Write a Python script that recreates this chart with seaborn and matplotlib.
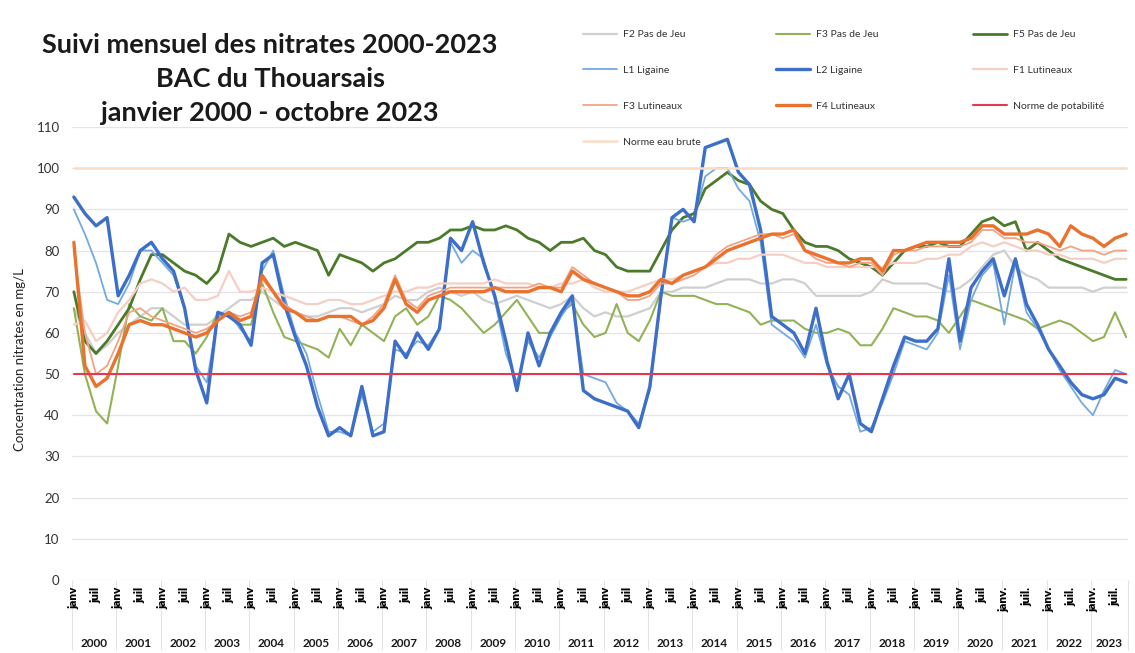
import numpy as np
import pandas as pd
import matplotlib.pyplot as plt
import seaborn as sns
from matplotlib.lines import Line2D

# mois depuis janvier 2000 (valeurs lues tous les 3 mois, jusqu'a octobre 2023)
months = list(range(0, 286, 3))

# one line per year: janv, avr, juil, oct
f2_pas_de_jeu = [
    66, 60, 55, 57,  60, 62, 64, 66,  66, 64, 62, 62,  62, 64, 66, 68,
    68, 70, 68, 66,  65, 64, 64, 65,  66, 66, 65, 66,  67, 69, 68, 68,
    70, 71, 70, 69,  70, 68, 67, 68,  69, 68, 67, 66,  67, 69, 66, 64,
    65, 64, 64, 65,  66, 70, 70, 71,  71, 71, 72, 73,  73, 73, 72, 72,
    73, 73, 72, 69,  69, 69, 69, 69,  70, 73, 72, 72,  72, 72, 71, 70,
    71, 73, 76, 79,  80, 76, 74, 73,  71, 71, 71, 71,  70, 71, 71, 71,
]
f3_pas_de_jeu = [
    66, 50, 41, 38,  52, 67, 64, 63,  66, 58, 58, 55,  59, 65, 64, 62,
    62, 72, 65, 59,  58, 57, 56, 54,  61, 57, 62, 60,  58, 64, 66, 62,
    64, 69, 68, 66,  63, 60, 62, 65,  68, 64, 60, 60,  65, 67, 62, 59,
    60, 67, 60, 58,  63, 70, 69, 69,  69, 68, 67, 67,  66, 65, 62, 63,
    63, 63, 61, 60,  60, 61, 60, 57,  57, 61, 66, 65,  64, 64, 63, 60,
    64, 68, 67, 66,  65, 64, 63, 61,  62, 63, 62, 60,  58, 59, 65, 59,
]
f5_pas_de_jeu = [
    70, 58, 55, 58,  62, 66, 73, 79,  79, 77, 75, 74,  72, 75, 84, 82,
    81, 82, 83, 81,  82, 81, 80, 74,  79, 78, 77, 75,  77, 78, 80, 82,
    82, 83, 85, 85,  86, 85, 85, 86,  85, 83, 82, 80,  82, 82, 83, 80,
    79, 76, 75, 75,  75, 80, 85, 88,  89, 95, 97, 99,  97, 96, 92, 90,
    89, 85, 82, 81,  81, 80, 78, 77,  76, 74, 77, 80,  81, 81, 82, 81,
    81, 84, 87, 88,  86, 87, 80, 82,  80, 78, 77, 76,  75, 74, 73, 73,
]
l1_ligaine = [
    90, 84, 77, 68,  67, 72, 80, 80,  77, 74, 66, 52,  48, 64, 65, 61,
    58, 75, 80, 69,  60, 55, 45, 36,  36, 35, 45, 36,  38, 56, 55, 58,
    57, 61, 82, 77,  80, 78, 68, 55,  48, 58, 54, 59,  64, 68, 50, 49,
    48, 43, 41, 38,  46, 68, 88, 87,  88, 98, 100, 100, 95, 92, 82, 62,
    60, 58, 54, 62,  52, 47, 45, 36,  37, 43, 50, 58,  57, 56, 60, 74,
    56, 68, 74, 77,  62, 77, 65, 61,  56, 51, 47, 43,  40, 46, 51, 50,
]
l2_ligaine = [
    93, 89, 86, 88,  69, 74, 80, 82,  78, 75, 66, 51,  43, 65, 64, 62,
    57, 77, 79, 67,  59, 52, 42, 35,  37, 35, 47, 35,  36, 58, 54, 60,
    56, 61, 83, 80,  87, 77, 69, 58,  46, 60, 52, 60,  65, 69, 46, 44,
    43, 42, 41, 37,  47, 69, 88, 90,  87, 105, 106, 107, 99, 96, 85, 64,
    62, 60, 55, 66,  53, 44, 50, 38,  36, 44, 52, 59,  58, 58, 61, 78,
    58, 71, 75, 78,  69, 78, 67, 62,  56, 52, 48, 45,  44, 45, 49, 48,
]
f1_lutineau = [
    62, 63, 58, 60,  65, 68, 72, 73,  72, 70, 71, 68,  68, 69, 75, 70,
    70, 71, 70, 69,  68, 67, 67, 68,  68, 67, 67, 68,  69, 70, 70, 71,
    71, 72, 72, 72,  72, 72, 73, 72,  72, 72, 71, 71,  72, 72, 73, 71,
    70, 70, 70, 71,  72, 73, 73, 74,  75, 76, 77, 77,  78, 78, 79, 79,
    79, 78, 77, 77,  76, 76, 76, 76,  76, 76, 77, 77,  77, 78, 78, 79,
    79, 81, 82, 81,  82, 81, 80, 80,  79, 79, 78, 78,  78, 77, 78, 78,
]
f3_lutineau = [
    80, 60, 50, 52,  58, 65, 66, 64,  63, 62, 61, 60,  61, 63, 65, 64,
    65, 73, 70, 67,  65, 64, 63, 64,  64, 63, 62, 64,  67, 74, 68, 66,
    69, 70, 71, 71,  71, 71, 71, 71,  71, 71, 72, 71,  71, 76, 74, 72,
    71, 70, 68, 68,  69, 72, 72, 73,  74, 76, 79, 81,  82, 83, 84, 84,
    83, 84, 80, 78,  77, 77, 76, 77,  77, 74, 79, 80,  80, 81, 81, 81,
    81, 82, 85, 85,  83, 83, 82, 82,  81, 80, 81, 80,  80, 79, 80, 80,
]
f4_lutineau = [
    82, 52, 47, 49,  55, 62, 63, 62,  62, 61, 60, 59,  60, 63, 65, 63,
    64, 74, 70, 66,  65, 63, 63, 64,  64, 64, 62, 63,  66, 73, 67, 65,
    68, 69, 70, 70,  70, 70, 71, 70,  70, 70, 71, 71,  70, 75, 73, 72,
    71, 70, 69, 69,  70, 73, 72, 74,  75, 76, 78, 80,  81, 82, 83, 84,
    84, 85, 80, 79,  78, 77, 77, 78,  78, 75, 80, 80,  81, 82, 82, 82,
    82, 83, 86, 86,  84, 84, 84, 85,  84, 81, 86, 84,  83, 81, 83, 84,
]
norme_potabilite = 50
norme_eau_brute = 100

years = [str(y) for y in range(2000, 2024)]
yticks = list(range(0, 111, 10))

series = [
    ("F2 Pas de Jeu", f2_pas_de_jeu, "#cfcfcf", 1.6),
    ("F3 Pas de Jeu", f3_pas_de_jeu, "#92b257", 1.5),
    ("F5 Pas de Jeu", f5_pas_de_jeu, "#4a7a2a", 2.0),
    ("L1 Ligaine", l1_ligaine, "#74a9e0", 1.3),
    ("L2 Ligaine", l2_ligaine, "#3d6fc8", 2.4),
    ("F1 Lutineaux", f1_lutineau, "#f6cfc4", 1.6),
    ("F3 Lutineaux", f3_lutineau, "#f2a386", 1.3),
    ("F4 Lutineaux", f4_lutineau, "#e9722f", 2.4),
    ("Norme de potabilité", [norme_potabilite] * len(months), "#e23a55", 1.5),
    ("Norme eau brute", [norme_eau_brute] * len(months), "#fbdcc4", 1.8),
]

sns.set_theme(style="white")
plt.rcParams["font.family"] = ["Lato", "DejaVu Sans"]

fig = plt.figure(figsize=(11.35, 6.53), dpi=100)
ax = fig.add_axes([72 / 1135, 1 - 580 / 653, 1056 / 1135, 453 / 653])

handles = {}
for name, vals, col, lw in series:
    df = pd.DataFrame({"mois": months, "val": vals})
    sns.lineplot(data=df, x="mois", y="val", ax=ax, color=col, lw=lw, legend=False)
    handles[name] = Line2D([], [], color=col, lw=lw)

ax.set_xlim(-0.5, 285.5)
ax.set_ylim(0, 110)
ax.set_xlabel("")
ax.set_ylabel("")
for s in ax.spines.values():
    s.set_visible(False)
ax.set_yticks(yticks)
ax.yaxis.grid(True, color="#e4e4e4", lw=0.9)
ax.tick_params(axis="y", length=0, pad=9, labelsize=9.5, labelcolor="#333333")

# month labels
mticks = list(range(0, 286, 6))
mlabels = []
for m in mticks:
    lab = "janv" if m % 12 == 0 else "juil"
    if m >= 252:
        lab += "."
    mlabels.append(lab)
ax.set_xticks(mticks, labels=mlabels)
ax.tick_params(axis="x", which="major", length=0, pad=5, labelsize=8.5,
               labelrotation=90, labelcolor="#000000")
for t in ax.get_xticklabels():
    t.set_fontweight("heavy")

# year separators under the category labels
seps = [12 * k - 0.5 for k in range(24)] + [285.5]
ax.vlines(seps, -0.155, 0, transform=ax.get_xaxis_transform(), colors="#e3e3e3",
          lw=0.8, clip_on=False, zorder=0.5)

sec = ax.secondary_xaxis("bottom")
centers = [12 * k + 5.5 for k in range(23)] + [280.5]
sec.set_xticks(centers, labels=years)
sec.tick_params(length=0, pad=42, labelsize=8.5, labelcolor="#1a1a1a")
for t in sec.get_xticklabels():
    t.set_fontweight("bold")
sec.spines["bottom"].set_visible(False)

fig.text(20 / 1135, 1 - 360 / 653, "Concentration nitrates en mg/L", rotation=90,
         ha="center", va="center", fontsize=9.5, color="#222222")

title_lines = ["Suivi mensuel des nitrates 2000-2023", "BAC du Thouarsais",
               "janvier 2000 - octobre 2023"]
for i, line in enumerate(title_lines):
    fig.text(270 / 1135, 1 - (45 + 34 * i) / 653, line, ha="center", va="center",
             fontsize=19.5, fontweight="bold", color="#1a1a1a")

columns = [
    ["F2 Pas de Jeu", "L1 Ligaine", "F3 Lutineaux", "Norme eau brute"],
    ["F3 Pas de Jeu", "L2 Ligaine", "F4 Lutineaux"],
    ["F5 Pas de Jeu", "F1 Lutineaux", "Norme de potabilité"],
]
col_x = [583, 776, 973]
for names, x0 in zip(columns, col_x):
    fig.legend([handles[n] for n in names], names, loc="upper left",
               bbox_to_anchor=(x0 / 1135, 1 - 30 / 653), frameon=False,
               fontsize=7.5, handlelength=3.3, handletextpad=0.5,
               borderpad=0, borderaxespad=0, labelspacing=2.55,
               labelcolor="#333333")

fig.savefig("out.png", dpi=100)
